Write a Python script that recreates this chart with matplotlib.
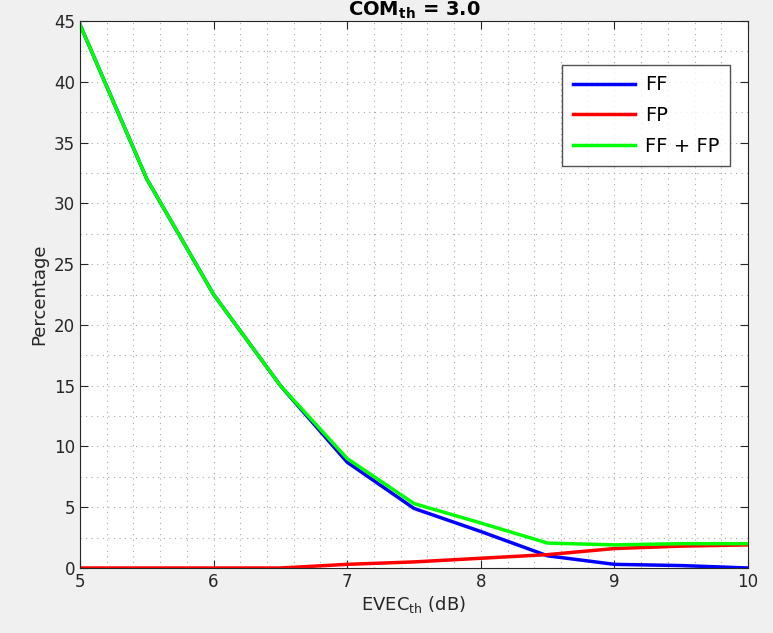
import matplotlib.pyplot as plt
import numpy as np
from matplotlib.ticker import MultipleLocator

evec = [5, 5.5, 6, 6.5, 7, 7.5, 8, 8.5, 9, 9.5, 10]
ff = [44.7, 32.0, 22.5, 15.0, 8.7, 4.9, 3.0, 1.0, 0.3, 0.2, 0.0]
fp = [0.0, 0.0, 0.0, 0.0, 0.3, 0.5, 0.8, 1.1, 1.6, 1.8, 1.9]
ff_fp = [44.7, 32.0, 22.5, 15.0, 9.0, 5.3, 3.7, 2.05, 1.9, 2.0, 2.0]

plt.rcParams['font.family'] = 'DejaVu Sans'
fig = plt.figure(figsize=(7.73, 6.33), dpi=100, facecolor='#f0f0f0')
ax = fig.add_axes([0.1035, 0.1027, 0.8642, 0.8641])
ax.set_facecolor('white')

ax.plot(evec, ff, color='#0000ff', lw=2.5, label='FF')
ax.plot(evec, fp, color='#ff0000', lw=2.5, label='FP')
ax.plot(evec, ff_fp, color='#00ff00', lw=2.5, label='FF + FP')

ax.set_xlim(5, 10)
ax.set_ylim(0, 45)
ax.xaxis.set_major_locator(MultipleLocator(1))
ax.xaxis.set_minor_locator(MultipleLocator(0.2))
ax.yaxis.set_major_locator(MultipleLocator(5))
ax.yaxis.set_minor_locator(MultipleLocator(2.5))
ax.grid(True, which='both', linestyle=(0, (1, 4)), color='#aaaaaa', lw=0.8)
ax.tick_params(which='both', direction='in', top=True, right=True, labelsize=12, colors='#262626')
ax.tick_params(which='major', length=6)
ax.tick_params(which='minor', length=0)
for s in ax.spines.values():
    s.set_color('#262626')

ax.set_title('COM$_{\\mathbf{th}}$ = 3.0', fontsize=14, fontweight='bold', color='black', pad=1)
ax.set_xlabel('EVEC$_{\\mathrm{th}}$ (dB)', fontsize=13, color='#262626', labelpad=2)
ax.set_ylabel('Percentage', fontsize=13, color='#262626')

leg = ax.legend(loc='upper right', bbox_to_anchor=(0.973, 0.92), borderaxespad=0, fontsize=14,
                frameon=True, fancybox=False, edgecolor='#262626', handlelength=3.2,
                borderpad=0.55, labelspacing=0.6, handletextpad=0.5)
leg.get_frame().set_linewidth(1.0)

fig.savefig('out.png', dpi=100, facecolor=fig.get_facecolor())
